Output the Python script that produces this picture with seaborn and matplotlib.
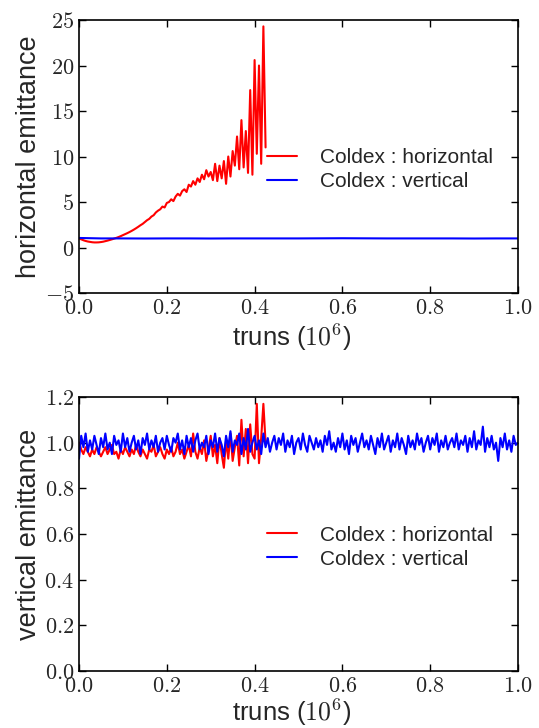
import matplotlib
matplotlib.use("Agg")
import numpy as np
import pandas as pd
import seaborn as sns
import matplotlib.pyplot as plt
from matplotlib.ticker import FuncFormatter, MultipleLocator

# turns (in units of 1e6), shared grid
turns = [
    0.000, 0.005, 0.010, 0.015, 0.020, 0.025, 0.030, 0.035, 0.040, 0.045,
    0.050, 0.055, 0.060, 0.065, 0.070, 0.075, 0.080, 0.085, 0.090, 0.095,
    0.100, 0.105, 0.110, 0.115, 0.120, 0.125, 0.130, 0.135, 0.140, 0.145,
    0.150, 0.155, 0.160, 0.165, 0.170, 0.175, 0.180, 0.185, 0.190, 0.195,
    0.200, 0.205, 0.210, 0.215, 0.220, 0.225, 0.230, 0.235, 0.240, 0.245,
    0.250, 0.255, 0.260, 0.265, 0.270, 0.275, 0.280, 0.285, 0.290, 0.295,
    0.300, 0.305, 0.310, 0.315, 0.320, 0.325, 0.330, 0.335, 0.340, 0.345,
    0.350, 0.355, 0.360, 0.365, 0.370, 0.375, 0.380, 0.385, 0.390, 0.395,
    0.400, 0.405, 0.410, 0.415, 0.420, 0.425, 0.430, 0.435, 0.440, 0.445,
    0.450, 0.455, 0.460, 0.465, 0.470, 0.475, 0.480, 0.485, 0.490, 0.495,
    0.500, 0.505, 0.510, 0.515, 0.520, 0.525, 0.530, 0.535, 0.540, 0.545,
    0.550, 0.555, 0.560, 0.565, 0.570, 0.575, 0.580, 0.585, 0.590, 0.595,
    0.600, 0.605, 0.610, 0.615, 0.620, 0.625, 0.630, 0.635, 0.640, 0.645,
    0.650, 0.655, 0.660, 0.665, 0.670, 0.675, 0.680, 0.685, 0.690, 0.695,
    0.700, 0.705, 0.710, 0.715, 0.720, 0.725, 0.730, 0.735, 0.740, 0.745,
    0.750, 0.755, 0.760, 0.765, 0.770, 0.775, 0.780, 0.785, 0.790, 0.795,
    0.800, 0.805, 0.810, 0.815, 0.820, 0.825, 0.830, 0.835, 0.840, 0.845,
    0.850, 0.855, 0.860, 0.865, 0.870, 0.875, 0.880, 0.885, 0.890, 0.895,
    0.900, 0.905, 0.910, 0.915, 0.920, 0.925, 0.930, 0.935, 0.940, 0.945,
    0.950, 0.955, 0.960, 0.965, 0.970, 0.975, 0.980, 0.985, 0.990, 0.995,
    1.000,
]

# horizontal emittance, coldex horizontal run (stops at 0.425)
hemit_h = [
    1.00, 0.90, 0.80, 0.72, 0.66, 0.62, 0.58, 0.56, 0.56, 0.57,
    0.60, 0.64, 0.70, 0.76, 0.83, 0.90, 0.98, 1.06, 1.15, 1.25,
    1.36, 1.47, 1.58, 1.70, 1.83, 1.97, 2.12, 2.28, 2.45, 2.60,
    2.80, 3.00, 3.15, 3.40, 3.55, 3.85, 4.05, 4.20, 4.50, 4.40,
    4.90, 5.00, 5.30, 5.10, 5.60, 5.90, 5.70, 6.20, 6.40, 6.10,
    6.90, 6.70, 7.30, 6.90, 7.60, 7.20, 8.00, 7.50, 8.50, 7.80,
    8.30, 7.40, 9.20, 7.30, 9.00, 7.60, 9.50, 7.00, 10.0, 7.80,
    10.6, 9.00, 12.2, 8.60, 14.0, 8.80, 12.8, 8.20, 17.3, 8.00,
    20.6, 10.3, 20.0, 9.20, 24.3, 11.0,
]
# horizontal emittance, coldex vertical run (every 10th turn point)
hemit_v = [1.05, 1.00, 1.00, 0.99, 1.00, 1.00, 0.99, 1.00, 1.00, 1.00, 1.00,
           1.01, 1.02, 1.01, 1.00, 1.00, 1.00, 1.00, 0.99, 1.00, 1.00]

# vertical emittance, coldex horizontal run
vemit_h = [
    1.00, 0.97, 0.95, 0.98, 0.96, 0.94, 0.97, 0.95, 0.98, 0.96,
    0.94, 0.96, 0.98, 0.95, 0.97, 0.99, 0.95, 0.96, 0.93, 0.97,
    0.95, 0.98, 0.96, 0.94, 0.97, 0.95, 0.99, 0.96, 0.94, 0.97,
    0.95, 0.93, 0.97, 0.96, 0.99, 0.94, 0.96, 0.98, 0.95, 0.93,
    0.97, 0.95, 0.98, 0.94, 0.96, 1.00, 0.95, 0.97, 0.93, 0.96,
    0.99, 0.94, 1.04, 0.96, 0.93, 0.98, 0.95, 1.01, 0.92, 0.97,
    1.03, 0.94, 0.99, 0.91, 1.02, 0.95, 0.89, 1.01, 0.93, 1.04,
    0.92, 0.98, 1.03, 0.90, 1.10, 0.94, 1.06, 0.91, 1.08, 0.95,
    0.93, 1.17, 0.91, 1.02, 1.17, 1.00,
]
# vertical emittance, coldex vertical run
vemit_v = [
    0.93, 1.03, 0.98, 1.04, 0.96, 1.01, 0.97, 1.03, 0.99, 0.95,
    1.02, 0.98, 1.04, 0.97, 1.00, 0.95, 1.03, 0.99, 1.01, 0.96,
    1.04, 0.98, 1.02, 0.96, 1.00, 1.03, 0.97, 1.01, 0.95, 1.02,
    0.99, 1.04, 0.97, 1.01, 0.98, 1.03, 0.96, 1.00, 1.02, 0.97,
    1.03, 0.99, 0.96, 1.02, 1.00, 1.04, 0.97, 1.01, 0.95, 1.03,
    0.98, 1.02, 0.96, 1.01, 1.04, 0.97, 1.00, 0.98, 1.03, 0.95,
    1.01, 0.98, 1.04, 0.96, 1.02, 0.99, 0.94, 1.03, 0.98, 1.05,
    0.96, 1.01, 0.99, 1.04, 0.95, 1.02, 0.97, 1.06, 0.96, 1.00,
    1.03, 0.97, 1.01, 0.95, 1.04, 0.98, 1.02, 0.96, 1.00, 1.03,
    0.97, 1.02, 0.99, 1.04, 0.96, 1.01, 0.98, 1.03, 0.95, 1.00,
    1.02, 0.97, 1.04, 0.99, 0.96, 1.03, 1.00, 0.97, 1.02, 0.98,
    1.01, 0.96, 1.03, 0.99, 1.05, 0.97, 1.00, 0.96, 1.02, 0.98,
    1.04, 0.97, 1.01, 0.95, 1.03, 0.99, 1.02, 0.96, 1.00, 1.04,
    0.98, 1.01, 0.97, 1.03, 0.99, 0.95, 1.02, 0.98, 1.04, 0.97,
    1.00, 1.03, 0.96, 1.01, 0.98, 1.04, 0.97, 1.02, 0.99, 0.95,
    1.03, 0.98, 1.01, 0.97, 1.04, 0.99, 1.02, 0.96, 1.00, 1.03,
    0.97, 1.02, 0.99, 1.04, 0.96, 1.01, 0.98, 1.03, 0.97, 1.00,
    1.02, 0.98, 1.04, 0.97, 1.01, 0.99, 1.03, 0.96, 1.02, 0.98,
    1.05, 0.97, 1.01, 0.99, 1.07, 0.96, 1.02, 0.98, 1.03, 0.97,
    1.00, 0.92, 1.02, 0.98, 1.04, 0.97, 1.01, 0.96, 1.03, 0.99,
    1.00,
]

lab_h = "Coldex : horizontal"
lab_v = "Coldex : vertical"
colors = {lab_h: "#ff0000", lab_v: "#0000ff"}

df_top = pd.concat([
    pd.DataFrame({"turns": turns[:len(hemit_h)], "emit": hemit_h, "run": lab_h}),
    pd.DataFrame({"turns": turns[::10], "emit": hemit_v, "run": lab_v}),
])
df_bot = pd.concat([
    pd.DataFrame({"turns": turns[:len(vemit_h)], "emit": vemit_h, "run": lab_h}),
    pd.DataFrame({"turns": turns, "emit": vemit_v, "run": lab_v}),
])

sns.set_style("ticks")
plt.rcParams['font.family'] = ['Liberation Sans', 'DejaVu Sans']
plt.rcParams['mathtext.fontset'] = 'cm'

fig = plt.figure(figsize=(5.39, 7.28), dpi=100)
ax1 = fig.add_axes([0.1466, 0.5975, 0.8144, 0.375])
ax2 = fig.add_axes([0.1466, 0.0783, 0.8144, 0.3764])

for ax, df, ylab, xl_y in [(ax1, df_top, "horizontal emittance", -0.105),
                           (ax2, df_bot, "vertical emittance", -0.095)]:
    sns.lineplot(data=df, x="turns", y="emit", hue="run", palette=colors,
                 estimator=None, sort=False, linewidth=1.5, ax=ax)
    ax.set_xlim(0, 1)
    ax.xaxis.set_major_locator(MultipleLocator(0.2))
    ax.xaxis.set_major_formatter(FuncFormatter(lambda v, p: r"$%.1f$" % v))
    ax.set_xlabel(r"truns ($10^6$)", fontsize=18.5)
    ax.set_ylabel(ylab, fontsize=19.5)
    ax.xaxis.set_label_coords(0.485, xl_y)
    ax.yaxis.set_label_coords(-0.085, 0.5)
    ax.tick_params(direction="in", top=True, right=True, length=5, width=1,
                   labelsize=16, pad=3.6, color="black")
    for s in ax.spines.values():
        s.set_linewidth(1.2)
        s.set_color("black")
    ax.legend(loc="center right", bbox_to_anchor=(0.943, 0.452), frameon=False,
              fontsize=15, handlelength=1.45, handletextpad=1.1,
              labelspacing=0.25, borderpad=0, borderaxespad=0)

ax1.set_ylim(-5, 25)
ax1.yaxis.set_major_locator(MultipleLocator(5))
ax1.yaxis.set_major_formatter(FuncFormatter(lambda v, p: r"$%d$" % v))

ax2.set_ylim(0, 1.2)
ax2.yaxis.set_major_locator(MultipleLocator(0.2))
ax2.yaxis.set_major_formatter(FuncFormatter(lambda v, p: r"$%.1f$" % v))

fig.savefig("out.png", dpi=100)
